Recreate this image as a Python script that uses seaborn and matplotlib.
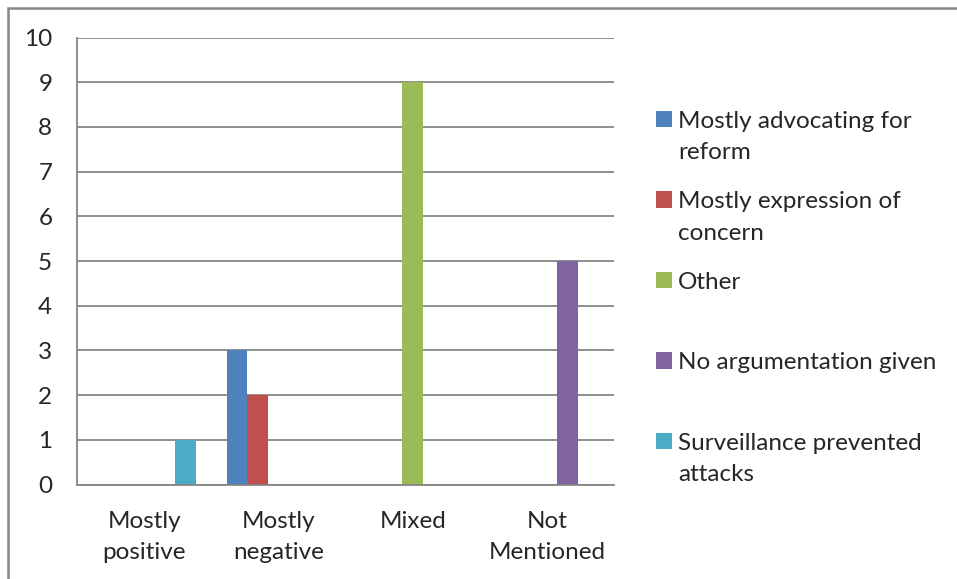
import pandas as pd
import seaborn as sns
import matplotlib.pyplot as plt
from matplotlib.patches import Patch, Rectangle

# Данные
categories = ["Mostly\npositive", "Mostly\nnegative", "Mixed", "Not\nMentioned"]
series = [
    "Mostly advocating for reform",
    "Mostly expression of concern",
    "Other",
    "No argumentation given",
    "Surveillance prevented attacks",
]
advocating = [0, 3, 0, 0]
concern = [0, 2, 0, 0]
other = [0, 0, 9, 0]
no_argument = [0, 0, 0, 5]
surveillance = [1, 0, 0, 0]
legend_labels = [
    "Mostly advocating for\nreform",
    "Mostly expression of\nconcern",
    "Other\n",
    "No argumentation given\n",
    "Surveillance prevented\nattacks",
]
colors = ["#4F81BD", "#C0504D", "#9BBB59", "#8064A2", "#4BACC6"]

rows = []
for name, vals in zip(series, [advocating, concern, other, no_argument, surveillance]):
    for cat, v in zip(categories, vals):
        rows.append({"Stance": cat, "Argument": name, "Count": v})
df = pd.DataFrame(rows)

sns.set_style("white")
plt.rcParams["font.family"] = ["Lato", "DejaVu Sans"]
fs = 17.5
grey = "#868686"

fig = plt.figure(figsize=(9.57, 5.79), dpi=100)
ax = fig.add_axes([77 / 957, 1 - 484.5 / 579, 537 / 957, 447 / 579])

sns.barplot(data=df, x="Stance", y="Count", hue="Argument", order=categories,
            hue_order=series, palette=colors, saturation=1, width=5 / 6.5,
            linewidth=0, legend=False, ax=ax)

ax.set_xlim(-0.5, 3.5)
ax.set_ylim(0, 10)
ax.set_yticks(range(0, 11))
ax.set_xlabel("")
ax.set_ylabel("")
ax.grid(axis="y", color=grey, lw=1.3)
ax.set_axisbelow(True)
for s in ["top", "right"]:
    ax.spines[s].set_visible(False)
for s in ["left", "bottom"]:
    ax.spines[s].set_color(grey)
    ax.spines[s].set_linewidth(1.3)

ax.set_xticks([-0.5, 0.5, 1.5, 2.5, 3.5], minor=True)
ax.tick_params(axis="x", which="major", length=0, pad=19.2, labelsize=fs)
ax.tick_params(axis="x", which="minor", length=5, width=1.3, color=grey, direction="out")
ax.tick_params(axis="y", length=5.8, width=1.3, color=grey, direction="out", pad=12, labelsize=fs)
for t in ax.get_xticklabels():
    t.set_linespacing(1.55)

handles = [Patch(facecolor=c, edgecolor="none") for c in colors]
leg = fig.legend(handles, legend_labels, loc="upper left",
                 bbox_to_anchor=(656 / 957, 1 - 111 / 579), frameon=False,
                 fontsize=fs, handlelength=0.66, handleheight=0.66,
                 handletextpad=0.25, labelspacing=1.16, borderpad=0, borderaxespad=0)
for t in leg.get_texts():
    t.set_linespacing(1.6)
for col in leg._legend_handle_box.get_children():
    for item in col.get_children():
        item.align = "top"

# рамка вокруг диаграммы
fig.patches.append(Rectangle((8 / 957, -0.1), 1.2, 1 - 8 / 579 + 0.1,
                             transform=fig.transFigure, fill=False,
                             edgecolor=grey, lw=1.8))

plt.savefig("out.png", dpi=100)
